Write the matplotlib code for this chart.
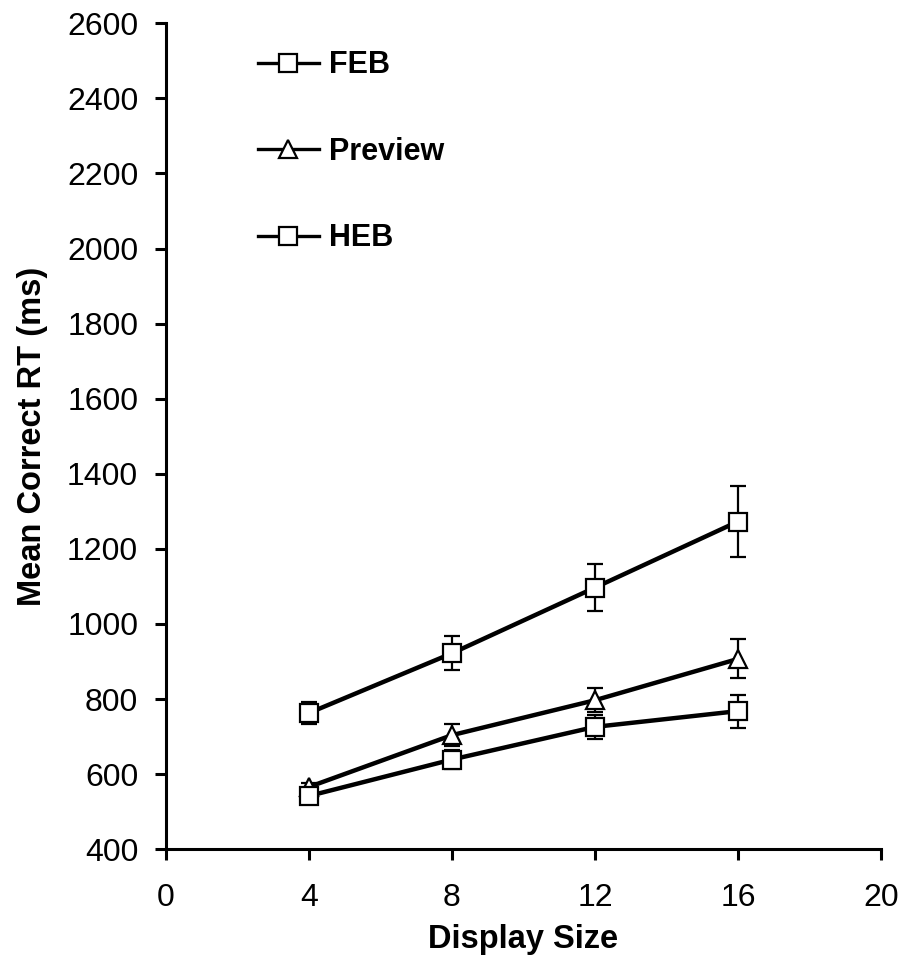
import matplotlib
matplotlib.use("Agg")
import matplotlib.pyplot as plt
from matplotlib.lines import Line2D

plt.rcParams['font.family'] = ['Liberation Sans', 'DejaVu Sans']

display_size = [4, 8, 12, 16]

feb_rt = [763, 922, 1097, 1273]
feb_err = [30, 45, 63, 95]

preview_rt = [566, 704, 797, 907]
preview_err = [10, 30, 32, 52]

heb_rt = [542, 639, 726, 768]
heb_err = [12, 25, 32, 44]

x_ticks = [0, 4, 8, 12, 16, 20]
y_ticks = list(range(400, 2601, 200))

fig = plt.figure(figsize=(9.04, 9.58), dpi=100)
ax = fig.add_axes([0.1836, 0.1135, 0.7910, 0.8622])

series = [
    ('FEB', feb_rt, feb_err, 's'),
    ('Preview', preview_rt, preview_err, '^'),
    ('HEB', heb_rt, heb_err, 's'),
]

handles = []
for label, rt, err, marker in series:
    ax.errorbar(display_size, rt, yerr=err, color='black', linewidth=3.2,
                marker=marker, markersize=13, markerfacecolor='white',
                markeredgecolor='black', markeredgewidth=1.6,
                ecolor='black', elinewidth=1.6, capsize=6, capthick=1.6)
    handles.append(Line2D([], [], color='black', linewidth=2.4, marker=marker,
                          markersize=13, markerfacecolor='white',
                          markeredgecolor='black', markeredgewidth=1.6,
                          label=label))

ax.set_xlim(0, 20)
ax.set_ylim(400, 2600)
ax.set_xticks(x_ticks)
ax.set_yticks(y_ticks)

for side in ['top', 'right']:
    ax.spines[side].set_visible(False)
for side in ['left', 'bottom']:
    ax.spines[side].set_linewidth(2.2)

ax.tick_params(direction='out', length=8, width=2.2, labelsize=23)
ax.tick_params(axis='x', pad=16)
ax.tick_params(axis='y', pad=12)
ax.set_xlabel('Display Size', fontsize=23.5, fontweight='bold', labelpad=8)
ax.set_ylabel('Mean Correct RT (ms)', fontsize=23.5, fontweight='bold', labelpad=14)

ax.legend(handles=handles, loc='upper left', bbox_to_anchor=(0.111, 0.982),
          frameon=False, prop={'weight': 'bold', 'size': 22},
          handlelength=2.0, handletextpad=0.33, labelspacing=1.85,
          numpoints=1, borderaxespad=0)

fig.savefig('out.png', dpi=100)
